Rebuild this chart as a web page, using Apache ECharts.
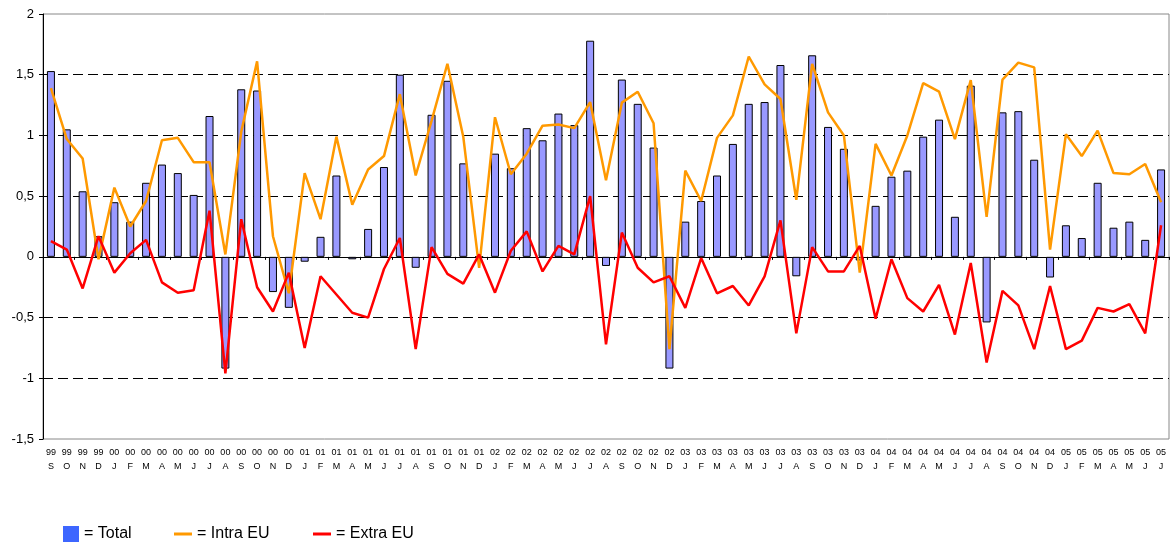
<!DOCTYPE html>
<html>
<head>
<meta charset="utf-8">
<script src="https://cdn.jsdelivr.net/npm/echarts@6/dist/echarts.min.js"></script>
<style>html,body{margin:0;padding:0;background:#fff}#c{width:1175px;height:543px}</style>
</head>
<body>
<div id="c"></div>
<script>
var years = ['99','99','99','99',
  '00','00','00','00','00','00','00','00','00','00','00','00',
  '01','01','01','01','01','01','01','01','01','01','01','01',
  '02','02','02','02','02','02','02','02','02','02','02','02',
  '03','03','03','03','03','03','03','03','03','03','03','03',
  '04','04','04','04','04','04','04','04','04','04','04','04',
  '05','05','05','05','05','05','05'];
var months = ['S','O','N','D',
  'J','F','M','A','M','J','J','A','S','O','N','D',
  'J','F','M','A','M','J','J','A','S','O','N','D',
  'J','F','M','A','M','J','J','A','S','O','N','D',
  'J','F','M','A','M','J','J','A','S','O','N','D',
  'J','F','M','A','M','J','J','A','S','O','N','D',
  'J','F','M','A','M','J','J'];
var total = [1.53,1.05,0.54,0.17,
  0.45,0.29,0.61,0.76,0.69,0.51,1.16,-0.92,1.38,1.37,-0.29,-0.42,
  -0.04,0.165,0.67,-0.02,0.23,0.74,1.50,-0.09,1.17,1.45,0.77,0.0,
  0.85,0.73,1.06,0.96,1.18,1.085,1.78,-0.075,1.46,1.26,0.90,-0.92,
  0.29,0.46,0.67,0.93,1.26,1.275,1.58,-0.16,1.66,1.07,0.89,-0.03,
  0.42,0.66,0.71,0.99,1.13,0.33,1.41,-0.54,1.19,1.20,0.80,-0.17,
  0.26,0.155,0.61,0.24,0.29,0.14,0.72];
var intraEU = [1.39,0.97,0.81,-0.02,
  0.57,0.25,0.46,0.96,0.98,0.78,0.78,0.02,1.03,1.61,0.17,-0.30,
  0.69,0.31,0.99,0.43,0.72,0.83,1.34,0.67,1.12,1.59,0.99,-0.09,
  1.15,0.68,0.85,1.08,1.09,1.06,1.275,0.63,1.27,1.36,1.10,-0.76,
  0.71,0.46,0.98,1.165,1.65,1.42,1.30,0.47,1.59,1.19,1.00,-0.13,
  0.93,0.67,1.00,1.43,1.36,0.97,1.455,0.33,1.46,1.60,1.56,0.06,
  1.01,0.83,1.04,0.69,0.68,0.765,0.45];
var extraEU = [0.13,0.06,-0.26,0.17,
  -0.13,0.03,0.14,-0.21,-0.295,-0.275,0.38,-0.96,0.31,-0.25,-0.45,-0.13,
  -0.75,-0.16,-0.31,-0.46,-0.50,-0.10,0.155,-0.76,0.08,-0.14,-0.22,0.02,
  -0.295,0.05,0.21,-0.12,0.09,0.02,0.50,-0.72,0.20,-0.09,-0.21,-0.16,
  -0.42,-0.01,-0.30,-0.24,-0.40,-0.16,0.30,-0.63,0.08,-0.12,-0.12,0.09,
  -0.51,-0.02,-0.34,-0.45,-0.23,-0.64,-0.05,-0.87,-0.28,-0.40,-0.76,-0.24,
  -0.76,-0.69,-0.42,-0.45,-0.39,-0.63,0.26];

var cats = years.map(function(y,i){ return y + '\n' + months[i]; });
var font = 'Arial, "Liberation Sans", sans-serif';

var chart = echarts.init(document.getElementById('c'), null, {renderer:'canvas'});
chart.setOption({
  animation: false,
  backgroundColor: '#fff',
  grid: {left: 43, right: 6, top: 14, bottom: 104, show: true, borderColor: '#888', borderWidth: 1, backgroundColor: 'transparent'},
  xAxis: [
    {type:'category', data: cats, boundaryGap: true,
     axisLine: {onZero: true, lineStyle: {color:'#000', width:1}},
     axisTick: {show: true, inside: false, length: 3, lineStyle: {color:'#000'}},
     axisLabel: {show: false}, splitLine: {show:false}},
    {type:'category', data: cats, boundaryGap: true, position: 'bottom',
     axisLine: {show: false, onZero: false}, axisTick: {show:false},
     axisLabel: {show:true, interval: 0, fontSize: 9, lineHeight: 14, color:'#000', fontFamily: font, margin: 7},
     splitLine: {show:false}}
  ],
  yAxis: {type:'value', min: -1.5, max: 2, interval: 0.5,
    axisLine: {show: true, lineStyle: {color:'#000', width:1}},
    axisTick: {show: true, length: 4, lineStyle:{color:'#000'}},
    axisLabel: {fontSize: 13, color:'#000', fontFamily: font, margin: 9,
      formatter: function(v){ return String(v).replace('.', ','); }},
    splitLine: {show: true, showMinLine: false, showMaxLine: false, lineStyle: {color:'#000', type:[10,5], width:1}}
  },
  legend: [
    {data:[{name:'Total', itemStyle:{color:'#3d66ff', borderWidth:0}}], left: 63, top: 526, padding: 0,
     icon:'rect', itemWidth:16, itemHeight:16, itemGap: 0,
     formatter: '= {name}', textStyle:{fontSize:16, color:'#000', fontFamily: font, lineHeight:16}},
    {data:['Intra EU'], left: 174, top: 526, padding: 0, icon:'rect', itemWidth:18, itemHeight:3,
     formatter: '= {name}', textStyle:{fontSize:16, color:'#000', fontFamily: font, lineHeight:16}},
    {data:['Extra EU'], left: 313, top: 526, padding: 0, icon:'rect', itemWidth:18, itemHeight:3,
     formatter: '= {name}', textStyle:{fontSize:16, color:'#000', fontFamily: font, lineHeight:16}}
  ],
  series: [
    {name:'Total', type:'bar', data: total, barWidth: 8,
     itemStyle: {color:'#9999ff', borderColor:'#000', borderWidth:1}},
    {name:'Intra EU', type:'line', data: intraEU, symbol:'none',
     lineStyle:{color:'#ff9900', width:2.5}, itemStyle:{color:'#ff9900'}},
    {name:'Extra EU', type:'line', data: extraEU, symbol:'none',
     lineStyle:{color:'#ff0000', width:2.5}, itemStyle:{color:'#ff0000'}}
  ]
});
</script>
</body>
</html>
